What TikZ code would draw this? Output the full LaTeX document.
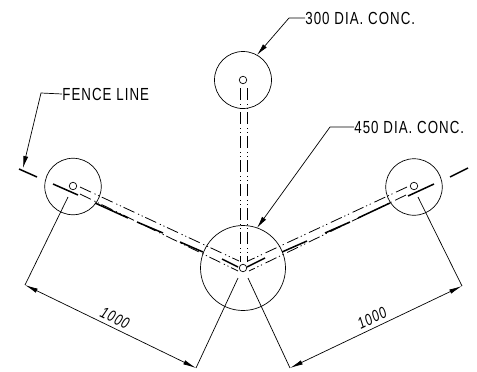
\documentclass[tikz,border=0pt]{standalone}
\usepackage{fontspec}
\usepackage{tikz}
\usetikzlibrary{arrows.meta}
\setmainfont[FakeStretch=.76,LetterSpace=6]{Liberation Sans}

\begin{document}
\begin{tikzpicture}[x=1pt,y=-1pt,line width=.7pt,
	post/.style={circle,draw,inner sep=0pt,minimum size=#1},
	hole/.style={circle,draw,fill=white,inner sep=0pt,minimum size=7.5pt},
	pipe/.style={line width=.8pt,dash pattern=on 12pt off 4pt on 1.2pt off 2.8pt on 1.2pt off 2.8pt},
	fence/.style={line width=1.5pt},
	leader/.style={-{Latex[length=12pt,width=5pt]}},
	dimline/.style={{Latex[length=13pt,width=4.5pt]}-{Latex[length=13pt,width=4.5pt]}},
	tag/.style={inner sep=0pt,font=\fontsize{17.5}{20}\selectfont},
	dimtag/.style={inner sep=0pt,font=\fontsize{16}{18}\selectfont\itshape}]
	\useasboundingbox (0,0) rectangle (477,372);

	\node[post=56.5pt] (p1) at (73,186.5) {};
	\node[post=57pt] (p2) at (243,80) {};
	\node[post=56.5pt] (p3) at (414,187) {};
	\node[post=85pt] (p4) at (243,268) {};

	% pipes
	\coordinate (t1) at (240,88);
	\coordinate (t2) at (247,88);
	\coordinate (b1) at (240,262);
	\coordinate (b2) at (247,262);
	\coordinate (l1) at (80,187);
	\coordinate (l2) at (80,194);
	\coordinate (l3) at (239,261);
	\coordinate (l4) at (238,271);
	\coordinate (r1) at (407,187);
	\coordinate (r2) at (406,195);
	\coordinate (r3) at (248,261);
	\coordinate (r4) at (249,271);
	\draw[pipe] (t1) -- (b1);
	\draw[pipe] (t2) -- (b2);
	\draw[pipe] (l1) -- (l3);
	\draw[pipe] (l2) -- (l4);
	\draw[pipe] (r1) -- (r3);
	\draw[pipe] (r2) -- (r4);

	% fence line
	\draw[fence] (19,169) -- (37,177);
	\draw[fence] (53,184) -- (78,195);
	\draw[fence] (95,203) -- (128,218);
	\draw[fence] (137,222) -- (163,233);
	\draw[fence] (180,242) -- (203,252);
	\draw[fence] (222,259) -- (238,267);
	\draw[fence] (450,177) -- (468,168);
	\draw[fence] (408,196) -- (434,184);
	\draw[fence] (358,218) -- (390,203);
	\draw[fence] (325,233) -- (350,222);
	\draw[fence] (282,252) -- (307,241);
	\draw[fence] (247,267) -- (265,258);

	\node[hole] (h1) at (73,186) {};
	\node[hole] (h2) at (243,80) {};
	\node[hole] (h3) at (414,186) {};
	\node[hole] (h4) at (243,268) {};

	% leaders
	\node[tag,anchor=west] (fenceline) at (62,94) {FENCE LINE};
	\node[tag,anchor=west] (dia300) at (305,18) {300 DIA. CONC.};
	\node[tag,anchor=west] (dia450) at (354,127) {450 DIA. CONC.};
	\coordinate (k1) at (41,93);
	\coordinate (k2) at (289,18);
	\coordinate (k3) at (330,127);
	\coordinate (e1) at (23,168);
	\coordinate (e2) at (257,55);
	\coordinate (e3) at (257,228);
	\draw[leader] (fenceline.west) -- (k1) -- (e1);
	\draw[leader] (dia300.west) -- (k2) -- (e2);
	\draw[leader] (dia450.west) -- (k3) -- (e3);

	% dimensions
	\coordinate (d1) at (25,285);
	\coordinate (d2) at (196,368);
	\coordinate (d3) at (290,368);
	\coordinate (d4) at (462,286);
	\coordinate (x1) at (68,197);
	\coordinate (x2) at (238,278);
	\coordinate (x3) at (248,278);
	\coordinate (x4) at (418,197);
	\draw (d1) -- (x1);
	\draw (d2) -- (x2);
	\draw (d3) -- (x3);
	\draw (d4) -- (x4);
	\draw[dimline] (d1) -- (d2);
	\draw[dimline] (d3) -- (d4);
	\node[dimtag,rotate=-26] (dim1) at (115,318) {1000};
	\node[dimtag,rotate=26] (dim2) at (372,318) {1000};
\end{tikzpicture}
\end{document}
